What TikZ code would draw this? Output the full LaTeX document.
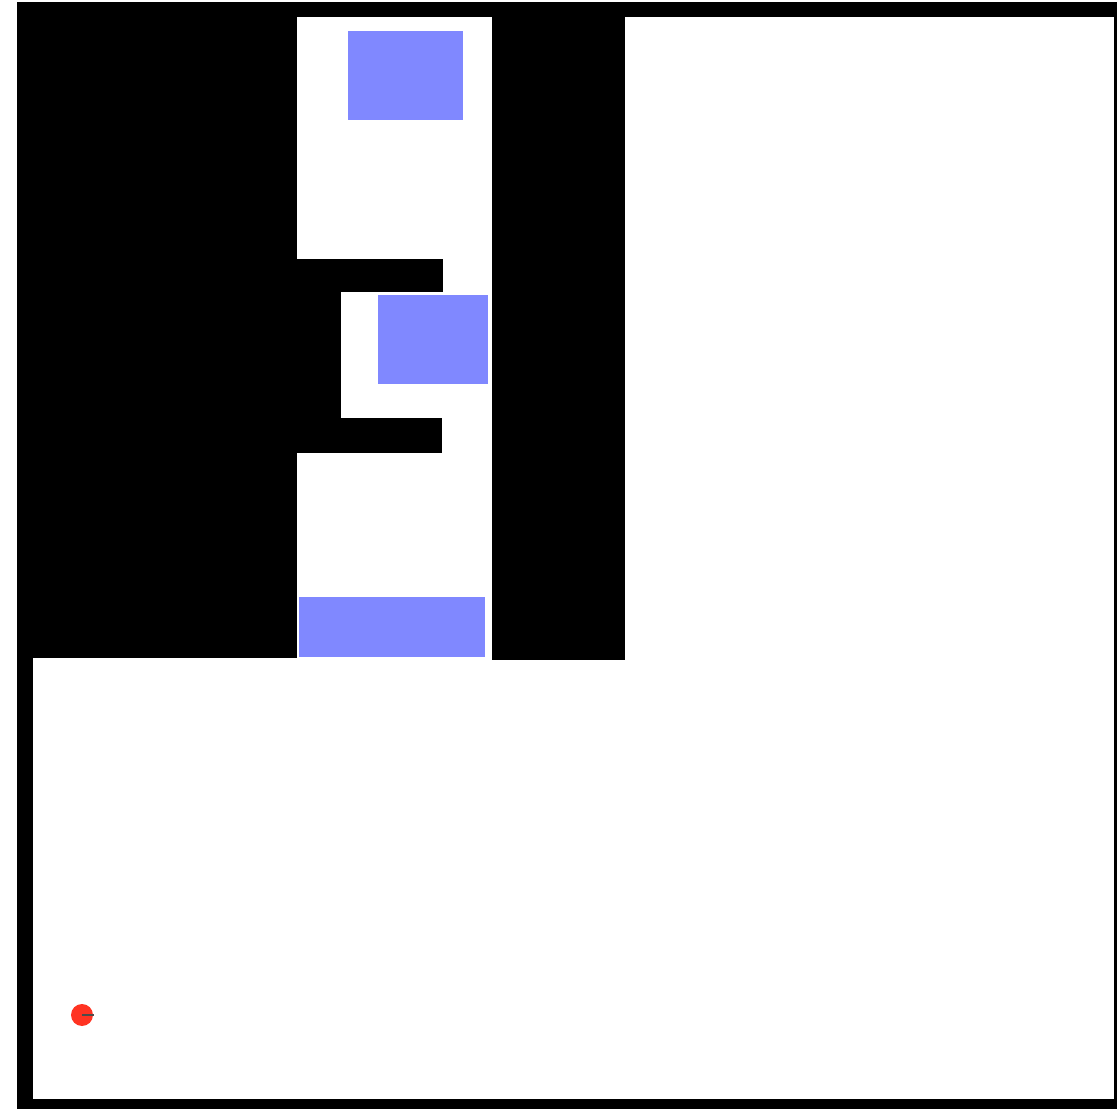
\documentclass[tikz,border=0pt]{standalone}
\definecolor{boxblue}{HTML}{8088FF}
\definecolor{dotred}{HTML}{FF3322}
\begin{document}
\begin{tikzpicture}[x={(0.01cm,0)},y={(0,-0.01cm)},
  wall/.style={fill=black},
  floor/.style={fill=white},
  box/.style={fill=boxblue}]
\useasboundingbox (0,0) rectangle (1117,1109);
\fill[white] (0,0) rectangle (1117,1109);
% outer black frame
\fill[wall] (17,2) rectangle (1117,1109);
% open floor areas
\fill[floor] (625,17) rectangle (1114,1099);
\fill[floor] (33,658) rectangle (1114,1099);
\fill[floor] (297,17) rectangle (492,658);
% black protrusions in corridor
\fill[wall] (297,259) rectangle (443,292);
\fill[wall] (297,292) rectangle (341,418);
\fill[wall] (297,418) rectangle (442,453);
% right column bottom
\fill[wall] (492,17) rectangle (625,660);
% blue boxes
\fill[box] (348,31) rectangle (463,120);
\fill[box] (378,295) rectangle (488,384);
\fill[box] (299,597) rectangle (485,657);
% red agent
\fill[dotred] (82,1015) circle (11);
\draw[black!70,line width=0.4pt] (82,1015) -- (94,1015);
\end{tikzpicture}
\end{document}
